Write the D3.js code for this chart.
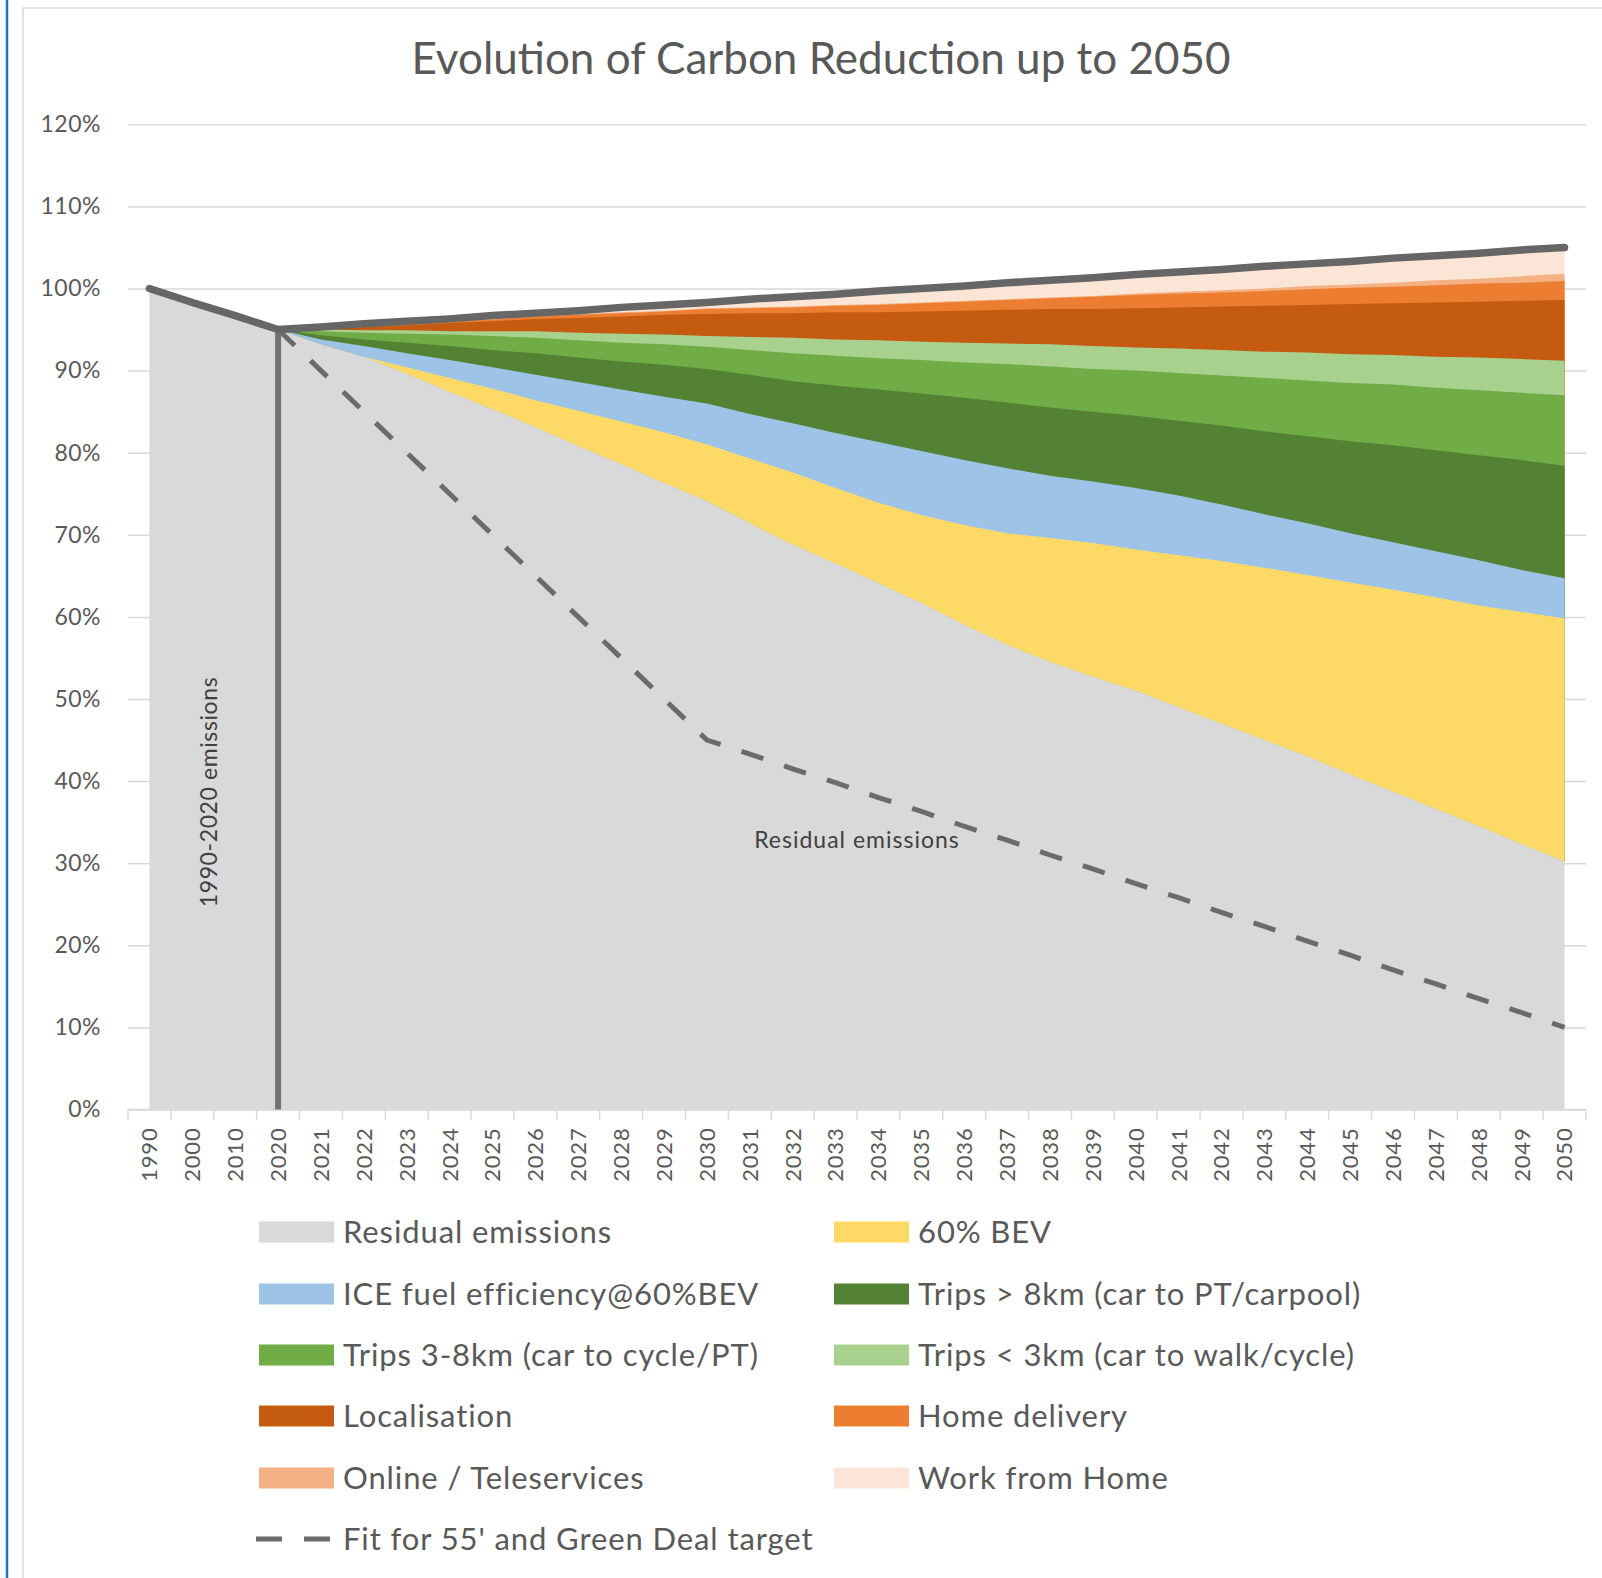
<!DOCTYPE html>
<html>
<head>
<meta charset="utf-8">
<script src="https://cdn.jsdelivr.net/npm/d3@7"></script>
<style>
  body { margin: 0; background: #fff; }
  svg text { font-family: Lato, "Noto Sans", sans-serif; }
</style>
</head>
<body>
<svg id="chart" width="1602" height="1578"></svg>
<script>
// Category axis: three historic decades, then every year to 2050
const years = ["1990","2000","2010","2020","2021","2022","2023","2024","2025","2026","2027",
  "2028","2029","2030","2031","2032","2033","2034","2035","2036","2037","2038","2039","2040",
  "2041","2042","2043","2044","2045","2046","2047","2048","2049","2050"];

// Stacked components, % of 1990 emissions
const residual     = [100, 98.3, 96.7, 95, 93.2, 91.7, 89.6, 87.4, 85.3, 83.1, 80.8, 78.6, 76.3, 74.1, 71.4, 68.8, 66.5, 64.1, 61.7, 59.0, 56.6, 54.5, 52.7, 51.0, 49.0, 47.0, 45.0, 43.0, 40.8, 38.7, 36.6, 34.5, 32.3, 30.2];
const bev          = [0, 0, 0, 0, 0, 0, 0.8, 1.7, 2.5, 3.3, 4.3, 5.2, 6.2, 6.9, 7.9, 8.8, 9.2, 9.8, 10.7, 12.2, 13.6, 15.1, 16.3, 17.2, 18.5, 19.8, 21.0, 22.1, 23.4, 24.6, 25.8, 26.9, 28.3, 29.6];
const ice          = [0, 0, 0, 0, 0.6, 1.3, 1.7, 2.2, 2.6, 3.1, 3.5, 3.9, 4.3, 5.0, 5.4, 6.0, 6.7, 7.4, 7.8, 7.9, 7.9, 7.6, 7.5, 7.5, 7.3, 6.9, 6.5, 6.3, 6.0, 5.8, 5.6, 5.5, 5.1, 4.9];
const tripsOver8   = [0, 0, 0, 0, 0.5, 0.8, 1.3, 1.7, 2.1, 2.6, 3.0, 3.4, 3.9, 4.2, 4.8, 5.1, 5.8, 6.4, 7.0, 7.6, 8.0, 8.3, 8.5, 8.8, 9.1, 9.6, 10.1, 10.6, 11.2, 11.8, 12.3, 12.8, 13.4, 13.7];
const trips3to8    = [0, 0, 0, 0, 0.5, 0.8, 1.1, 1.4, 1.7, 1.9, 2.1, 2.3, 2.5, 2.7, 3.0, 3.4, 3.6, 3.8, 4.1, 4.3, 4.7, 5.0, 5.2, 5.5, 5.8, 6.1, 6.5, 6.8, 7.1, 7.4, 7.6, 7.9, 8.2, 8.6];
const tripsUnder3  = [0, 0, 0, 0, 0.2, 0.3, 0.4, 0.4, 0.6, 0.8, 0.9, 1.1, 1.2, 1.3, 1.6, 1.9, 2.0, 2.2, 2.2, 2.4, 2.5, 2.7, 2.8, 2.8, 3.0, 3.1, 3.2, 3.4, 3.5, 3.6, 3.8, 4.0, 4.1, 4.2];
const localisation = [0, 0, 0, 0, 0.1, 0.4, 0.6, 1.0, 1.2, 1.5, 1.8, 2.1, 2.4, 2.7, 2.9, 3.0, 3.3, 3.4, 3.7, 3.9, 4.1, 4.3, 4.5, 4.8, 5.0, 5.3, 5.6, 5.8, 6.1, 6.3, 6.6, 6.8, 7.1, 7.4];
const homeDelivery = [0, 0, 0, 0, 0.05, 0.1, 0.2, 0.2, 0.2, 0.3, 0.4, 0.4, 0.4, 0.6, 0.6, 0.7, 0.8, 0.9, 1.0, 1.1, 1.2, 1.3, 1.5, 1.6, 1.7, 1.7, 1.8, 1.9, 2.0, 2.0, 2.1, 2.2, 2.2, 2.3];
const online       = [0, 0, 0, 0, 0.05, 0.05, 0.05, 0.05, 0.1, 0.05, 0.05, 0.1, 0.1, 0.1, 0.1, 0.1, 0.1, 0.1, 0.1, 0.1, 0.1, 0.1, 0.1, 0.2, 0.2, 0.3, 0.3, 0.4, 0.4, 0.5, 0.6, 0.6, 0.8, 0.9];
const workFromHome = [0, 0, 0, 0, 0.1, 0.2, 0.25, 0.3, 0.4, 0.35, 0.5, 0.55, 0.7, 0.75, 0.95, 1.2, 1.35, 1.55, 1.7, 1.85, 1.95, 2.1, 2.25, 2.25, 2.4, 2.55, 2.65, 2.7, 2.85, 2.95, 3.0, 3.15, 3.15, 3.2];

// Business-as-usual emissions (thick outline)
const baseline = [100, 98.3, 96.7, 95, 95.3, 95.7, 96, 96.3, 96.7, 97, 97.3, 97.7, 98, 98.3, 98.7, 99, 99.3, 99.7, 100, 100.3, 100.7, 101, 101.3, 101.7, 102, 102.3, 102.7, 103, 103.3, 103.7, 104, 104.3, 104.7, 105];
// Fit for 55 / Green Deal pathway (dashed)
const target = [null, null, null, 95, 90, 85, 80, 75, 70, 65, 60, 55, 50, 45, 43.3, 41.5, 39.8, 38, 36.3, 34.5, 32.8, 31, 29.3, 27.5, 25.8, 24, 22.3, 20.5, 18.8, 17, 15.3, 13.5, 11.8, 10];

const yTicks = [0, 10, 20, 30, 40, 50, 60, 70, 80, 90, 100, 110, 120];

const seriesKeys  = ["residual", "bev", "ice", "tripsOver8", "trips3to8", "tripsUnder3", "localisation", "homeDelivery", "online", "workFromHome"];
const seriesNames = ["Residual emissions", "60% BEV", "ICE fuel efficiency@60%BEV", "Trips > 8km (car to PT/carpool)",
  "Trips 3-8km (car to cycle/PT)", "Trips < 3km (car to walk/cycle)", "Localisation", "Home delivery",
  "Online / Teleservices", "Work from Home"];
const seriesValues = [residual, bev, ice, tripsOver8, trips3to8, tripsUnder3, localisation, homeDelivery, online, workFromHome];
const targetName = "Fit for 55' and Green Deal target";

// Styling
const palette = {
  residual: "#d9d9d9", bev: "#ffd966", ice: "#9dc3e6", tripsOver8: "#548235", trips3to8: "#70ad47",
  tripsUnder3: "#a9d18e", localisation: "#c55a11", homeDelivery: "#ed7d31", online: "#f4b183", workFromHome: "#fbe5d6"
};
const textColor = "#595959";
const fontStack = "Lato, 'Noto Sans', sans-serif";

const rows = years.map((yr, i) => {
  const r = { year: yr };
  seriesKeys.forEach((k, j) => { r[k] = seriesValues[j][i]; });
  return r;
});

const svg = d3.select("#chart");

// chart frame
svg.append("rect").attr("x", 23).attr("y", 8).attr("width", 1590).attr("height", 1600)
  .attr("fill", "none").attr("stroke", "#d9d9d9").attr("stroke-width", 1.5);
svg.append("line").attr("x1", 7).attr("x2", 7).attr("y1", 0).attr("y2", 1578)
  .attr("stroke", "#2771c4").attr("stroke-width", 2.5);

const plotLeft = 128, plotRight = 1586, plotTop = 124.3, plotBottom = 1109.5;
const x = d3.scaleBand().domain(years).range([plotLeft, plotRight]);
const cx = d => x(d) + x.bandwidth() / 2;
const y = d3.scaleLinear().domain([0, 120]).range([plotBottom, plotTop]);

// title
svg.append("text").attr("x", 821).attr("y", 74).attr("text-anchor", "middle")
  .attr("font-size", 44).attr("fill", textColor).text("Evolution of Carbon Reduction up to 2050");

// horizontal gridlines + y labels
const yAxis = svg.append("g").attr("transform", `translate(${plotLeft},0)`)
  .call(d3.axisLeft(y).tickValues(yTicks).tickSize(-(plotRight - plotLeft)).tickPadding(27).tickFormat(d => d + "%"));
yAxis.select(".domain").remove();
yAxis.selectAll(".tick line").attr("stroke", "#d9d9d9").attr("stroke-width", 1.5);
yAxis.selectAll(".tick text").attr("font-size", 23).attr("letter-spacing", 0.5).attr("fill", textColor)
  .style("font-family", fontStack);

// stacked areas: each reduction band is painted down to the residual line, top band first,
// so adjacent bands overlap instead of leaving hairline seams
const stacked = d3.stack().keys(seriesKeys)(rows);
const area = key => d3.area()
  .x(d => cx(d.data.year))
  .y0(d => key === "residual" ? y(0) : y(d.data.residual))
  .y1(d => y(d[1]));
svg.append("g").selectAll("path").data(stacked.slice().reverse()).join("path")
  .attr("d", s => area(s.key)(s)).attr("fill", s => palette[s.key]);

// x axis
svg.append("line").attr("x1", plotLeft).attr("x2", plotRight).attr("y1", plotBottom).attr("y2", plotBottom)
  .attr("stroke", "#d9d9d9").attr("stroke-width", 1.5);
svg.append("g").selectAll("line").data(d3.range(years.length + 1)).join("line")
  .attr("x1", i => plotLeft + i * x.bandwidth()).attr("x2", i => plotLeft + i * x.bandwidth())
  .attr("y1", plotBottom).attr("y2", plotBottom + 10).attr("stroke", "#d9d9d9").attr("stroke-width", 1.5);
const xAxis = svg.append("g").attr("transform", `translate(0,${plotBottom})`)
  .call(d3.axisBottom(x).tickSize(0));
xAxis.select(".domain").remove();
xAxis.selectAll(".tick text")
  .attr("transform", "rotate(-90)").attr("text-anchor", "end")
  .attr("x", -18).attr("y", 0).attr("dy", "0.36em")
  .attr("font-size", 22).attr("letter-spacing", 0.8).attr("fill", textColor)
  .style("font-family", fontStack);

// target pathway
svg.append("path").datum(rows.map((r, i) => ({ year: r.year, v: target[i] })))
  .attr("d", d3.line().defined(d => d.v !== null).x(d => cx(d.year)).y(d => y(d.v)))
  .attr("fill", "none").attr("stroke", "#6b6b6b").attr("stroke-width", 5)
  .attr("stroke-dasharray", "23,22");

// 2020 divider
svg.append("line").attr("x1", cx("2020")).attr("x2", cx("2020"))
  .attr("y1", y(baseline[3])).attr("y2", y(0))
  .attr("stroke", "#767171").attr("stroke-width", 6);

// baseline outline
svg.append("path").datum(rows.map((r, i) => ({ year: r.year, v: baseline[i] })))
  .attr("d", d3.line().x(d => cx(d.year)).y(d => y(d.v)))
  .attr("fill", "none").attr("stroke", "#666666").attr("stroke-width", 7.5)
  .attr("stroke-linecap", "round").attr("stroke-linejoin", "round");

// in-plot labels
svg.append("text").attr("transform", "translate(209,792) rotate(-90)")
  .attr("text-anchor", "middle").attr("dy", "0.35em").attr("font-size", 23).attr("letter-spacing", 0.6)
  .attr("fill", "#404040").text("1990-2020 emissions");
svg.append("text").attr("x", 857).attr("y", 840).attr("dy", "0.35em").attr("text-anchor", "middle")
  .attr("font-size", 23).attr("letter-spacing", 1).attr("fill", "#404040").text("Residual emissions");

// legend
const legendRowY = [1232, 1294, 1355, 1416, 1478, 1539];
const legendColX = [259, 834];
const legend = svg.append("g");
seriesKeys.forEach((k, i) => {
  const gx = legendColX[i % 2], gy = legendRowY[Math.floor(i / 2)];
  legend.append("rect").attr("x", gx).attr("y", gy - 10.5).attr("width", 75).attr("height", 21)
    .attr("fill", palette[k]);
  legend.append("text").attr("x", gx + 84).attr("y", gy).attr("dy", "0.36em")
    .attr("font-size", 31).attr("letter-spacing", 0.9).attr("fill", textColor).text(seriesNames[i]);
});
legend.append("line").attr("x1", 256).attr("x2", 330).attr("y1", legendRowY[5]).attr("y2", legendRowY[5])
  .attr("stroke", "#6b6b6b").attr("stroke-width", 5).attr("stroke-dasharray", "26,22");
legend.append("text").attr("x", 343).attr("y", legendRowY[5]).attr("dy", "0.36em")
  .attr("font-size", 31).attr("letter-spacing", 0.9).attr("fill", textColor).text(targetName);
</script>
</body>
</html>
